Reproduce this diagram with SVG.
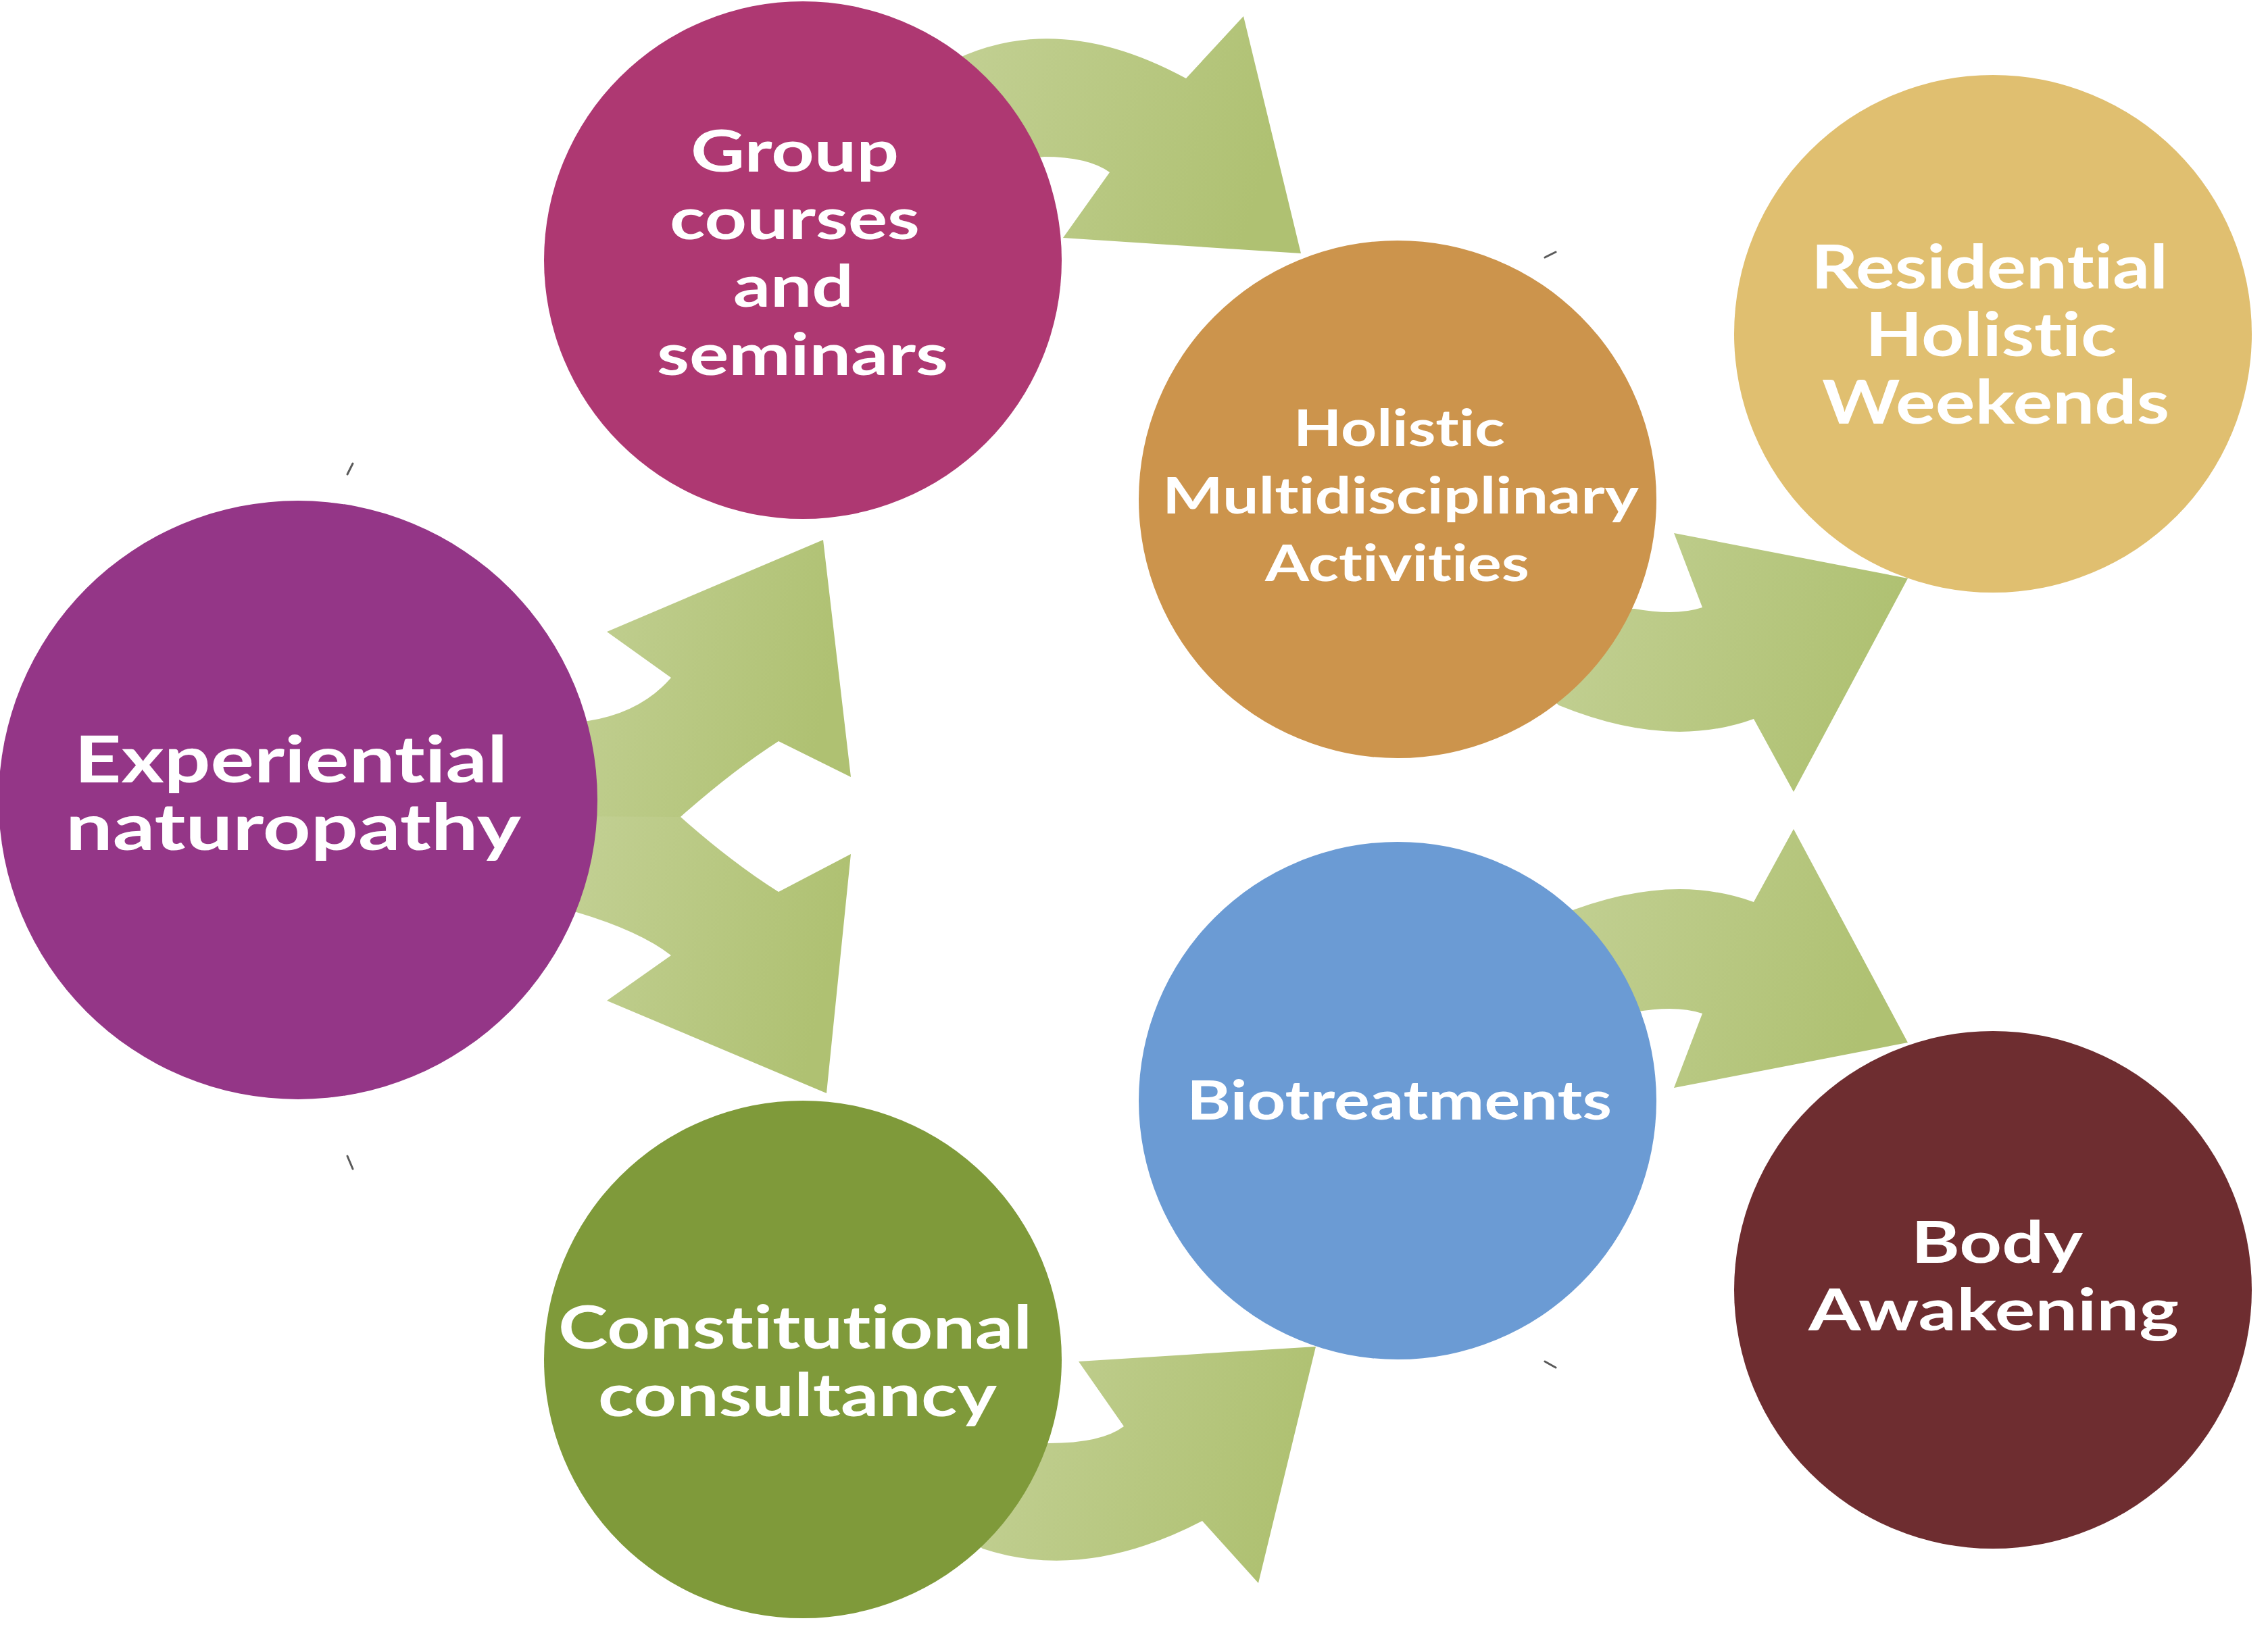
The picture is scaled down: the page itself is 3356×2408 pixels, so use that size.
<svg xmlns="http://www.w3.org/2000/svg" width="3356" height="2408" viewBox="0 0 3356 2408">
<defs>
<style>
.label { font-family: "Lato", "Liberation Sans", sans-serif; font-weight: 700; fill: #ffffff; font-variant-ligatures: none; font-feature-settings: "liga" 0, "clig" 0; }
.arrow { fill: url(#arrowGrad); }
.tick { stroke: #5a5a5a; stroke-width: 3; fill: none; stroke-linecap: round; }
</style>
<linearGradient id="arrowGrad" x1="0" y1="0" x2="1" y2="0.2">
<stop offset="0" stop-color="#C5D298"/>
<stop offset="1" stop-color="#AFC172"/>
</linearGradient>
</defs>
<rect width="3356" height="2408" fill="#ffffff"/>
<g id="connectors">
<path id="arrow-group-holistic" class="arrow" d="M 1350 140 L 1400 95 Q 1560 10 1755 116 L 1840 24 L 1925 375 L 1573 352 L 1642 255 Q 1610 232 1545 232 L 1450 245 Z"/>
<path id="arrow-exp-group" class="arrow" d="M 800 1080 L 870 1067 Q 948 1055 993 1003 L 898 935 L 1218 799 L 1259 1150 L 1152 1097 Q 1085 1140 1007 1209 L 800 1209 Z"/>
<path id="arrow-exp-const" class="arrow" d="M 800 1208 L 1007 1209 Q 1085 1278 1152 1320 L 1259 1264 L 1223 1618 L 898 1481 L 993 1414 Q 947 1378 853 1350 L 800 1340 Z"/>
<path id="arrow-holistic-residential" class="arrow" d="M 2250 900 L 2419 901 Q 2480 912 2519 899 L 2477 789 L 2823 856 L 2654 1172 L 2595 1064 Q 2469 1110 2307 1044 L 2250 1000 Z"/>
<path id="arrow-bio-body" class="arrow" d="M 2250 1499 L 2419 1498 Q 2480 1487 2519 1500 L 2477 1610 L 2823 1543 L 2654 1227 L 2595 1335 Q 2469 1289 2307 1355 L 2250 1399 Z"/>
<path id="arrow-const-bio" class="arrow" d="M 1400 2150 L 1552 2136 Q 1630 2136 1663 2111 L 1596 2015 L 1947 1993 L 1862 2343 L 1779 2251 Q 1604 2342 1454 2292 L 1400 2250 Z"/>
</g>
<g id="marks">
<path class="tick" d="M 514 702 L 522 686"/>
<path class="tick" d="M 514 1711 L 522 1730"/>
<path class="tick" d="M 2286 381 L 2302 373"/>
<path class="tick" d="M 2286 2015 L 2302 2024"/>
</g>
<g id="node-group-courses">
<circle cx="1188" cy="385" r="383" fill="#AE3872"/>
<text class="label" font-size="86" x="1022" y="254" textLength="308" lengthAdjust="spacingAndGlyphs">Group</text>
<text class="label" font-size="86" x="991" y="354" textLength="370" lengthAdjust="spacingAndGlyphs">courses</text>
<text class="label" font-size="86" x="1085" y="454" textLength="178" lengthAdjust="spacingAndGlyphs">and</text>
<text class="label" font-size="86" x="972" y="555" textLength="431" lengthAdjust="spacingAndGlyphs">seminars</text>
</g>
<g id="node-experiential">
<circle cx="441" cy="1184" r="443" fill="#943687"/>
<text class="label" font-size="95" x="110" y="1158" textLength="641" lengthAdjust="spacingAndGlyphs">Experiential</text>
<text class="label" font-size="95" x="97" y="1258" textLength="674" lengthAdjust="spacingAndGlyphs">naturopathy</text>
</g>
<g id="node-constitutional">
<circle cx="1188" cy="2012" r="383" fill="#7F9A3A"/>
<text class="label" font-size="88" x="826" y="1996" textLength="701" lengthAdjust="spacingAndGlyphs">Constitutional</text>
<text class="label" font-size="88" x="885" y="2096" textLength="590" lengthAdjust="spacingAndGlyphs">consultancy</text>
</g>
<g id="node-holistic">
<circle cx="2068" cy="739" r="383" fill="#CC944C"/>
<text class="label" font-size="75" x="1914" y="660" textLength="313" lengthAdjust="spacingAndGlyphs">Holistic</text>
<text class="label" font-size="75" x="1720" y="760" textLength="705" lengthAdjust="spacingAndGlyphs">Multidisciplinary</text>
<text class="label" font-size="75" x="1872" y="860" textLength="391" lengthAdjust="spacingAndGlyphs">Activities</text>
</g>
<g id="node-biotreatments">
<circle cx="2068" cy="1629" r="383" fill="#6B9BD4"/>
<text class="label" font-size="81" x="1756" y="1657" textLength="629" lengthAdjust="spacingAndGlyphs">Biotreatments</text>
</g>
<g id="node-residential">
<circle cx="2949" cy="494" r="383" fill="#E0BF70"/>
<text class="label" font-size="89" x="2680" y="427" textLength="528" lengthAdjust="spacingAndGlyphs">Residential</text>
<text class="label" font-size="89" x="2760" y="527" textLength="372" lengthAdjust="spacingAndGlyphs">Holistic</text>
<text class="label" font-size="89" x="2696" y="627" textLength="514" lengthAdjust="spacingAndGlyphs">Weekends</text>
</g>
<g id="node-body-awakening">
<circle cx="2949" cy="1909" r="383" fill="#6E2D30"/>
<text class="label" font-size="86" x="2828" y="1869" textLength="254" lengthAdjust="spacingAndGlyphs">Body</text>
<text class="label" font-size="86" x="2676" y="1969" textLength="548" lengthAdjust="spacingAndGlyphs">Awakening</text>
</g>
</svg>
